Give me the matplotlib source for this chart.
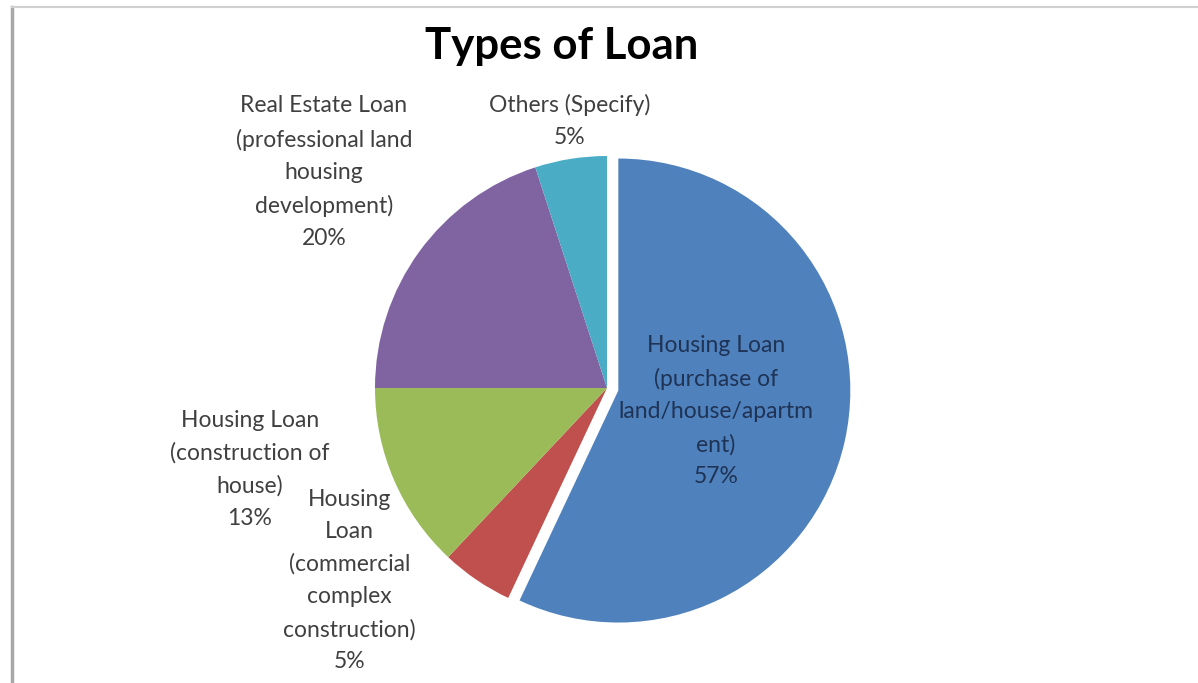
import matplotlib.pyplot as plt
from matplotlib.lines import Line2D

labels = ["Housing Loan\n(purchase of\nland/house/apartm\nent)",
          "Housing\nLoan\n(commercial\ncomplex\nconstruction)",
          "Housing Loan\n(construction of\nhouse)",
          "Real Estate Loan\n(professional land\nhousing\ndevelopment)",
          "Others (Specify)"]
shares = [57, 5, 13, 20, 5]
colors = ["#4F81BD", "#C0504D", "#9BBB59", "#8064A2", "#4BACC6"]
explode = [0.05, 0, 0, 0, 0]

# where each data label sits, in pie-radius units from the centre
label_xy = [(0.47, -0.10), (-1.11, -0.83), (-1.54, -0.35), (-1.22, 0.93), (-0.16, 1.15)]
label_col = ["#1F3355", "#404040", "#404040", "#404040", "#404040"]

W, H = 1198, 683
R = 232.0          # pie radius in px
cx, cy = 607, 295  # pie centre in px (from bottom-left)

fig = plt.figure(figsize=(W / 100, H / 100), dpi=100)
ax = fig.add_axes([0, 0, 1, 1])

ax.pie(shares, colors=colors, explode=explode, startangle=90, counterclock=False,
       wedgeprops=dict(linewidth=0))
ax.set_xlim(-cx / R, (W - cx) / R)
ax.set_ylim(-cy / R, (H - cy) / R)
ax.set_aspect("equal", adjustable="datalim")
ax.axis("off")

for lab, val, (x, y), c in zip(labels, shares, label_xy, label_col):
    ax.text(x, y, f"{lab}\n{val}%", ha="center", va="center", fontsize=16.5,
            family="Lato", color=c, linespacing=1.66)

fig.text(562 / W, 1 - 46 / H, "Types of Loan", ha="center", va="center",
         fontsize=31.5, fontweight="bold", family="Lato", color="black")

# chart frame: grey edge on the left and top
fig.add_artist(Line2D([11.5 / W, 11.5 / W], [0, 1 - 7 / H], color="#A8A8A8", lw=2.5))
fig.add_artist(Line2D([11.5 / W, 1], [1 - 7 / H, 1 - 7 / H], color="#D0D0D0", lw=1.5))

fig.savefig("out.png", dpi=100, facecolor="white")
